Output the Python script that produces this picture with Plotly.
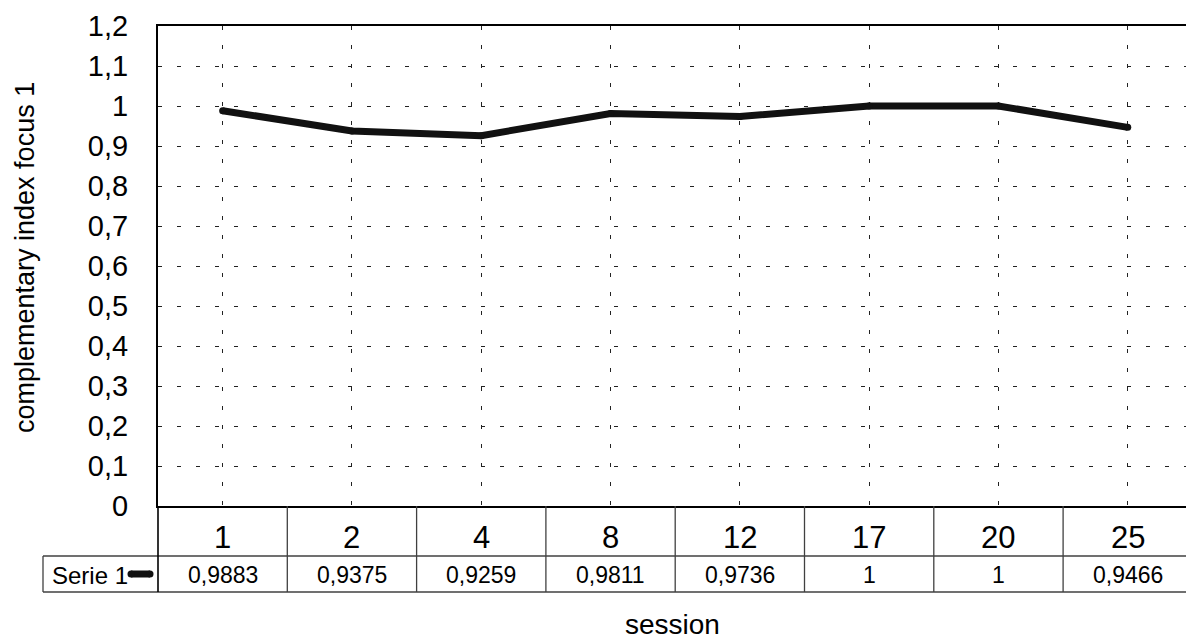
import plotly.graph_objects as go

# ---- data ----
sessions = ["1", "2", "4", "8", "12", "17", "20", "25"]
values = [0.9883, 0.9375, 0.9259, 0.9811, 0.9736, 1, 1, 0.9466]
series_name = "Serie 1"
y_tickvals = [0, 0.1, 0.2, 0.3, 0.4, 0.5, 0.6, 0.7, 0.8, 0.9, 1.0, 1.1, 1.2]
y_ticktext = ["0", "0,1", "0,2", "0,3", "0,4", "0,5", "0,6", "0,7", "0,8", "0,9", "1", "1,1", "1,2"]
y_title = "complementary index focus 1"
x_title = "session"

# ---- layout constants (pixels) ----
W, H = 1186, 639
L, T, R, B = 158, 26, 0, 133
PW, PH = W - L - R, H - T - B
FONT = "Liberation Sans, Arial, sans-serif"
INK = "#111111"
TABLE_COL = "#404040"


def px(xp):
    return (xp - L) / PW


def py(yp):
    return (T + PH - yp) / PH


cat_w = 129.3
x_range = [-0.5, -0.5 + PW / cat_w]

fig = go.Figure()
fig.add_trace(go.Scatter(
    x=sessions, y=values, mode="lines+markers",
    line=dict(color=INK, width=7),
    marker=dict(size=7, color=INK),
    showlegend=False, cliponaxis=False,
))

shapes = []
row1, row2 = py(556), py(592)
# horizontal table lines
for yy in (row1, row2):
    shapes.append(dict(type="line", xref="paper", yref="paper", x0=px(43), x1=1.02,
                       y0=yy, y1=yy, line=dict(color=TABLE_COL, width=1.3)))
# legend cell left edge
shapes.append(dict(type="line", xref="paper", yref="paper", x0=px(43), x1=px(43),
                   y0=row1, y1=row2, line=dict(color=TABLE_COL, width=1.3)))
# left edge of table at axis
shapes.append(dict(type="line", xref="paper", yref="paper", x0=0, x1=0,
                   y0=0, y1=row2, line=dict(color="black", width=1.6)))
# column separators
for k in range(len(sessions)):
    xb = k + 0.5
    shapes.append(dict(type="line", xref="x", yref="paper", x0=xb, x1=xb,
                       y0=0, y1=row2, line=dict(color=TABLE_COL, width=1.3)))
# legend symbol (thick line with round caps)
ly = py(574)
shapes.append(dict(type="line", xref="paper", yref="paper", x0=px(131), x1=px(150),
                   y0=ly, y1=ly, line=dict(color=INK, width=7)))
for cx in (131, 150):
    shapes.append(dict(type="circle", xref="paper", yref="paper", xsizemode="pixel",
                       ysizemode="pixel", xanchor=px(cx), yanchor=ly,
                       x0=-3.5, x1=3.5, y0=-3.5, y1=3.5,
                       fillcolor=INK, line=dict(width=0)))

annotations = []
for i, (s, v) in enumerate(zip(sessions, values)):
    annotations.append(dict(x=i, xref="x", y=py(537), yref="paper", text=s,
                            showarrow=False, xanchor="center", yanchor="middle",
                            font=dict(family=FONT, size=31, color="black")))
    annotations.append(dict(x=i, xref="x", y=py(575), yref="paper",
                            text=f"{v:g}".replace(".", ","),
                            showarrow=False, xanchor="center", yanchor="middle",
                            font=dict(family=FONT, size=23, color="black")))
annotations.append(dict(x=px(50), xref="paper", y=py(575), yref="paper", text=series_name,
                        showarrow=False, xanchor="left", yanchor="middle",
                        font=dict(family=FONT, size=24, color="black")))
annotations.append(dict(x=px(25), xref="paper", y=py(258), yref="paper", text=y_title,
                        textangle=-90, showarrow=False, xanchor="center", yanchor="middle",
                        font=dict(family=FONT, size=27, color="black")))
annotations.append(dict(x=0.5, xref="paper", y=py(624), yref="paper", text=x_title,
                        showarrow=False, xanchor="center", yanchor="middle",
                        font=dict(family=FONT, size=28, color="black")))

fig.update_layout(
    width=W, height=H,
    margin=dict(l=L, r=R, t=T, b=B, pad=0),
    paper_bgcolor="white", plot_bgcolor="white",
    font=dict(family=FONT, color="black"),
    xaxis=dict(type="category", range=x_range, showticklabels=False, ticks="",
               showgrid=True, gridcolor="#222222", gridwidth=1, griddash="4px,15px",
               showline=True, linecolor="black", linewidth=2, mirror=True,
               zeroline=False, fixedrange=True),
    yaxis=dict(range=[0, 1.2], tickvals=y_tickvals, ticktext=y_ticktext,
               tickfont=dict(family=FONT, size=29, color="black"),
               ticks="", ticklabelstandoff=22,
               showgrid=True, gridcolor="#222222", gridwidth=1, griddash="4px,15px",
               showline=True, linecolor="black", linewidth=2, mirror=False,
               zeroline=False, fixedrange=True),
    shapes=shapes, annotations=annotations, showlegend=False,
)

fig.write_html("out.html")
